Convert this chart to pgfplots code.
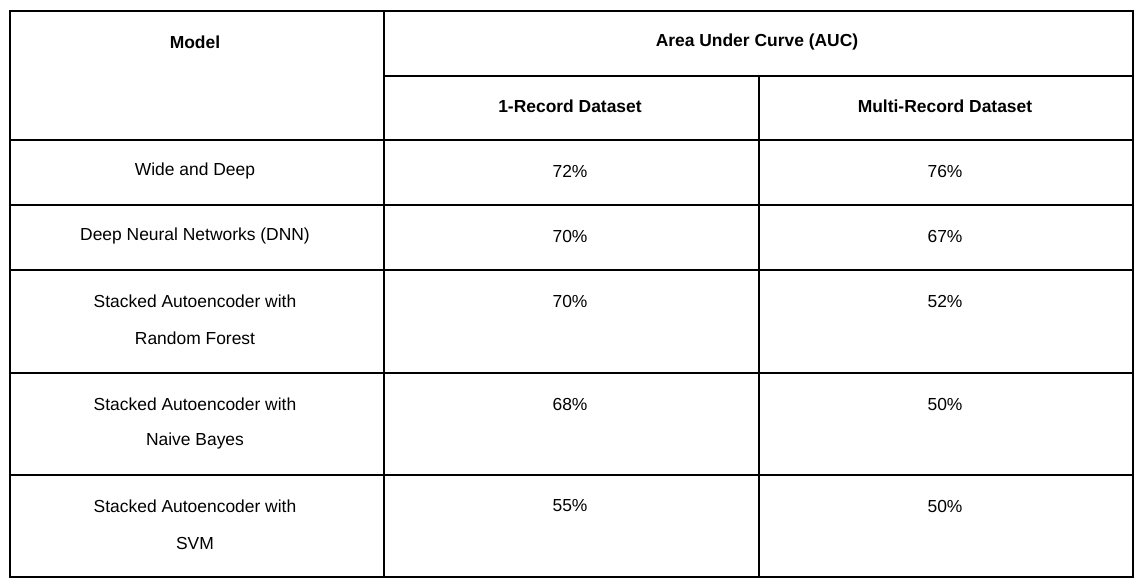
\documentclass[border=0pt]{standalone}
\usepackage{pgfplots}
\pgfplotsset{compat=1.18}
\usepackage{fontspec}
\setmainfont{Liberation Sans}
\begin{document}
\begin{tikzpicture}
\begin{axis}[x=1bp,y=1bp,y dir=reverse,xmin=0,xmax=1144,ymin=0,ymax=588,
  hide axis,clip=false,scale only axis]
\path (axis cs:0,0) rectangle (axis cs:1144,588);
\draw[line width=1.3bp] (axis cs:10,11) rectangle (axis cs:1133,577);
\draw[line width=1.3bp] (axis cs:384,11) -- (axis cs:384,577);
\draw[line width=1.3bp] (axis cs:759,76) -- (axis cs:759,577);
\draw[line width=1.3bp] (axis cs:384,76) -- (axis cs:1133,76);
\draw[line width=1.3bp] (axis cs:10,140) -- (axis cs:1133,140);
\draw[line width=1.3bp] (axis cs:10,205) -- (axis cs:1133,205);
\draw[line width=1.3bp] (axis cs:10,270) -- (axis cs:1133,270);
\draw[line width=1.3bp] (axis cs:10,373) -- (axis cs:1133,373);
\draw[line width=1.3bp] (axis cs:10,475) -- (axis cs:1133,475);
\tikzset{every node/.style={font=\fontsize{17.5}{21}\selectfont,inner sep=0pt}}
\node at (axis cs:195,42) {\textbf{Model}};
\node at (axis cs:757,42) {\textbf{Area Under Curve (AUC)}};
\node at (axis cs:570,106) {\textbf{1-Record Dataset}};
\node at (axis cs:945,106) {\textbf{Multi-Record Dataset}};
\node at (axis cs:195,171) {Wide and Deep};
\node at (axis cs:195,236) {Deep Neural Networks (DNN)};
\node at (axis cs:195,301) {Stacked Autoencoder with};
\node at (axis cs:195,338) {Random Forest};
\node at (axis cs:195,404) {Stacked Autoencoder with};
\node at (axis cs:195,441) {Naive Bayes};
\node at (axis cs:195,506) {Stacked Autoencoder with};
\node at (axis cs:195,543) {SVM};
\node at (axis cs:570,171) {72\%}; \node at (axis cs:945,171) {76\%};
\node at (axis cs:570,236) {70\%}; \node at (axis cs:945,236) {67\%};
\node at (axis cs:570,301) {70\%}; \node at (axis cs:945,301) {52\%};
\node at (axis cs:570,404) {68\%}; \node at (axis cs:945,404) {50\%};
\node at (axis cs:570,506) {55\%}; \node at (axis cs:945,506) {50\%};
\end{axis}
\end{tikzpicture}
\end{document}
